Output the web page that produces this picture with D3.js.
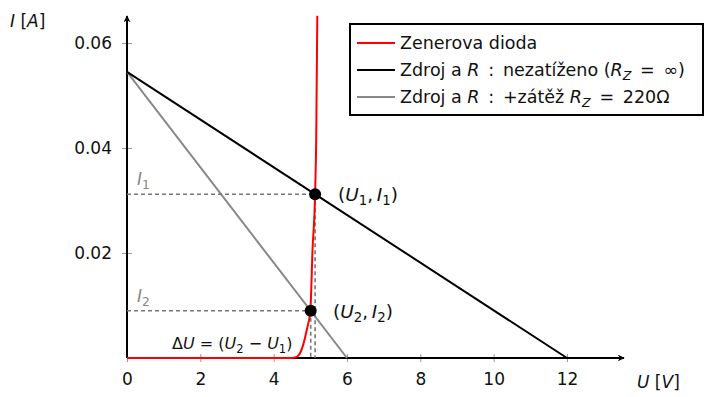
<!DOCTYPE html>
<html>
<head>
<meta charset="utf-8">
<script src="https://cdn.jsdelivr.net/npm/d3@7"></script>
<style>
  html, body { margin: 0; padding: 0; background: #fff; }
  svg text { font-family: "DejaVu Sans", "Open Sans", sans-serif; white-space: pre; }
</style>
</head>
<body>
<svg id="chart" width="711" height="397"></svg>
<script>
// Voltage ticks [V] and current ticks [A]
const xTicks = [0, 2, 4, 6, 8, 10, 12];
const yTicks = [0.02, 0.04, 0.06];

// Zener diode characteristic (U [V], I [A])
const zenerU = [0, 4.40, 4.58, 4.70, 4.80, 4.90, 5.00, 5.06, 5.13, 5.16, 5.19];
const zenerI = [0, 0, 0.0001, 0.0007, 0.0024, 0.0053, 0.0090, 0.0206, 0.0312, 0.0415, 0.0652];

// Load line of source + R, unloaded (R_Z = ∞)
const openU = [0, 12];
const openI = [0.0545, 0];

// Load line of source + R with 220 Ω load
const loadU = [0, 6];
const loadI = [0.0545, 0];

// Operating points
const pointU = [5.13, 5.01];
const pointI = [0.0312, 0.0090];

const svg = d3.select("#chart");
const x = d3.scaleLinear().domain([0, 12]).range([127, 567]);
const y = d3.scaleLinear().domain([0, 0.06]).range([358, 43]);

// arrow head
svg.append("defs").append("marker")
  .attr("id", "arrow").attr("viewBox", "0 0 10 10")
  .attr("refX", 9).attr("refY", 5)
  .attr("markerWidth", 7).attr("markerHeight", 7)
  .attr("markerUnits", "userSpaceOnUse")
  .attr("orient", "auto")
  .append("path").attr("d", "M0,0 L10,5 L0,10 L3,5 Z").attr("fill", "#000");

// x axis
const gx = svg.append("g").attr("transform", `translate(0,${y(0)})`)
  .call(d3.axisBottom(x).tickValues(xTicks).tickSize(4).tickFormat(d3.format("d")));
gx.select(".domain").remove();
gx.selectAll(".tick line").attr("y1", -4).attr("y2", 4).attr("stroke", "#999").attr("stroke-width", 1);
gx.selectAll(".tick text").attr("y", 15).attr("dy", "0.71em")
  .attr("font-size", 17).attr("fill", "#111");

// y axis
const gy = svg.append("g").attr("transform", `translate(${x(0)},0)`)
  .call(d3.axisLeft(y).tickValues(yTicks).tickSize(4).tickFormat(d3.format(".2f")));
gy.select(".domain").remove();
gy.selectAll(".tick line").attr("x1", -5).attr("x2", 5).attr("stroke", "#999").attr("stroke-width", 1);
gy.selectAll(".tick text").attr("x", -15).attr("font-size", 17).attr("fill", "#111");

// axis lines with arrows
svg.append("line").attr("x1", x(0)).attr("y1", y(0)).attr("x2", 624).attr("y2", y(0))
  .attr("stroke", "#000").attr("stroke-width", 2).attr("marker-end", "url(#arrow)");
svg.append("line").attr("x1", x(0)).attr("y1", y(0)).attr("x2", x(0)).attr("y2", 16)
  .attr("stroke", "#000").attr("stroke-width", 2).attr("marker-end", "url(#arrow)");

// axis titles
const yt = svg.append("text").attr("x", 10).attr("y", 27).attr("font-size", 17).attr("fill", "#111");
yt.append("tspan").attr("font-style", "italic").text("I");
yt.append("tspan").text(" [");
yt.append("tspan").attr("font-style", "italic").text("A");
yt.append("tspan").text("]");
const xt = svg.append("text").attr("x", 637).attr("y", 388).attr("font-size", 17).attr("fill", "#111");
xt.append("tspan").attr("font-style", "italic").text("U");
xt.append("tspan").text(" [");
xt.append("tspan").attr("font-style", "italic").text("V");
xt.append("tspan").text("]");

const line = d3.line().x(d => x(d[0])).y(d => y(d[1]));

// load lines
svg.append("path").datum(d3.zip(loadU, loadI)).attr("d", line)
  .attr("fill", "none").attr("stroke", "#888").attr("stroke-width", 2);
svg.append("path").datum(d3.zip(openU, openI)).attr("d", line)
  .attr("fill", "none").attr("stroke", "#000").attr("stroke-width", 2);

// dashed guides to the operating points
pointU.forEach((u, i) => {
  svg.append("line").attr("x1", x(0)).attr("x2", x(u)).attr("y1", y(pointI[i])).attr("y2", y(pointI[i]))
    .attr("stroke", "#777").attr("stroke-width", 1.6).attr("stroke-dasharray", "4,3");
  svg.append("line").attr("x1", x(u)).attr("x2", x(u)).attr("y1", y(pointI[i])).attr("y2", y(0))
    .attr("stroke", "#777").attr("stroke-width", 1.6).attr("stroke-dasharray", "4,3");
});

// Zener characteristic
svg.append("path").datum(d3.zip(zenerU, zenerI))
  .attr("d", d3.line().x(d => x(d[0])).y(d => y(d[1])).curve(d3.curveMonotoneX))
  .attr("fill", "none").attr("stroke", "#ff0000").attr("stroke-width", 2);

// operating point markers
svg.selectAll("circle.op").data(d3.zip(pointU, pointI)).enter().append("circle")
  .attr("class", "op").attr("cx", d => x(d[0])).attr("cy", d => y(d[1])).attr("r", 6).attr("fill", "#000");

// math-like labels: parts = [text, italic, subscript]; text after a subscript returns to the baseline
function mathText(sel, parts, size) {
  let sub = false;
  parts.forEach(p => {
    const t = sel.append("tspan").text(p[0]);
    if (p[1]) t.attr("font-style", "italic");
    if (p[2]) { t.attr("font-size", size * 0.72).attr("dy", 4); sub = true; }
    else if (sub) { t.attr("dy", -4); sub = false; }
  });
}

// I1 / I2 labels on the current axis
const l1 = svg.append("text").attr("x", 137).attr("y", 185).attr("font-size", 17).attr("fill", "#888");
mathText(l1, [["I", true], ["1", false, true]], 17);
const l2 = svg.append("text").attr("x", 137).attr("y", 302).attr("font-size", 17).attr("fill", "#888");
mathText(l2, [["I", true], ["2", false, true]], 17);

// point labels
const p1 = svg.append("text").attr("x", 338).attr("y", 201).attr("font-size", 18.5).attr("fill", "#111");
mathText(p1, [["("], ["U", true], ["1", false, true], [",\u2009"], ["I", true], ["1", false, true], [")"]], 18.5);
const p2 = svg.append("text").attr("x", 333).attr("y", 318).attr("font-size", 18.5).attr("fill", "#111");
mathText(p2, [["("], ["U", true], ["2", false, true], [",\u2009"], ["I", true], ["2", false, true], [")"]], 18.5);
const du = svg.append("text").attr("x", 172).attr("y", 349).attr("font-size", 16).attr("fill", "#111");
mathText(du, [["Δ"], ["U", true], [" = ("], ["U", true], ["2", false, true], [" − "], ["U", true], ["1", false, true], [")"]], 16);

// legend
const lg = svg.append("g");
lg.append("rect").attr("x", 350).attr("y", 24).attr("width", 353).attr("height", 91)
  .attr("fill", "#fff").attr("stroke", "#000").attr("stroke-width", 2);
const legendColors = ["#ff0000", "#000", "#888"];
const legendRows = [
  [["Zenerova dioda"]],
  [["Zdroj a "], ["R", true], ["\u2002:\u2002nezatíženo ("], ["R", true], ["Z", true, true], ["\u2002=\u2002∞)"]],
  [["Zdroj a "], ["R", true], ["\u2002:\u2002+zátěž "], ["R", true], ["Z", true, true], ["\u2002=\u2002220Ω"]]
];
legendRows.forEach((parts, i) => {
  const ly = 43 + i * 27;
  lg.append("line").attr("x1", 357).attr("x2", 395).attr("y1", ly).attr("y2", ly)
    .attr("stroke", legendColors[i]).attr("stroke-width", 2);
  const t = lg.append("text").attr("x", 400).attr("y", ly + 6).attr("font-size", 17.5).attr("fill", "#111");
  mathText(t, parts, 17.5);
});
</script>
</body>
</html>
